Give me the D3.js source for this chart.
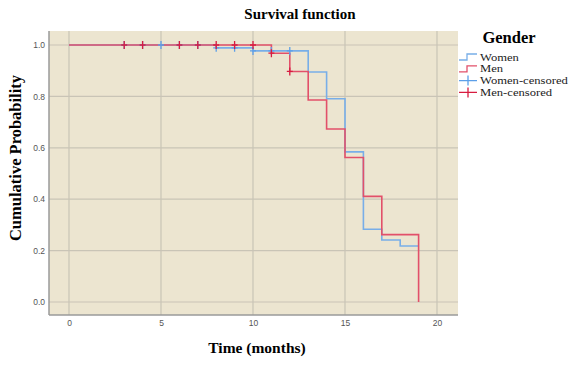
<!DOCTYPE html>
<html>
<head>
<meta charset="utf-8">
<script src="https://cdn.jsdelivr.net/npm/d3@7"></script>
<style>
  body { margin: 0; background: #fff; }
  text { font-family: "Liberation Serif", serif; }
  .tick text { font-family: "Liberation Sans", Arial, sans-serif; font-size: 8.5px; fill: #555; }
</style>
</head>
<body>
<svg id="drawing_region"></svg>
<script>
// Kaplan-Meier steps
const womenTime = [0, 8, 10, 13, 14, 15, 16, 17, 18, 19];
const womenSurv = [1.0, 0.989, 0.977, 0.895, 0.791, 0.584, 0.283, 0.241, 0.218, 0.218];
const menTime = [0, 11, 12, 13, 14, 15, 16, 17, 19];
const menSurv = [1.0, 0.968, 0.897, 0.786, 0.673, 0.562, 0.411, 0.262, 0.0];

// censored times
const womenCensored = [3, 4, 5, 6, 7, 8, 9, 10, 11, 12];
const menCensored = [3, 4, 6, 7, 8, 9, 10, 11, 12];

const xTicks = [0, 5, 10, 15, 20];
const yTicks = [0, 0.2, 0.4, 0.6, 0.8, 1.0];
const legendLabels = ["Women", "Men", "Women-censored", "Men-censored"];

let config = {
    parent: '#drawing_region',
    width: 587,
    height: 379,
    x0: 69, x1: 437,      // pixel of t=0 and t=20
    y0: 302, y1: 45,      // pixel of p=0 and p=1
    plot: {left: 49, right: 458, top: 31, bottom: 315},
    blue: '#78aee8',
    red: '#e2506a',
    redMark: '#d81c40',
    blueMark: '#5c9fe8'
};

class SurvivalPlot {
    constructor( config ) {
        this.config = config;
        this.init();
    }

    init() {
        let self = this;
        const c = self.config;

        self.svg = d3.select( c.parent )
            .attr('width', c.width)
            .attr('height', c.height);

        self.xscale = d3.scaleLinear().domain([0, 20]).range([c.x0, c.x1]);
        self.yscale = d3.scaleLinear().domain([0, 1]).range([c.y0, c.y1]);
    }

    render() {
        let self = this;
        const c = self.config;
        const p = c.plot;

        // background
        self.svg.append('rect')
            .attr('x', p.left).attr('y', p.top)
            .attr('width', p.right - p.left).attr('height', p.bottom - p.top)
            .attr('fill', '#ece5d0');

        // grid
        self.svg.append('g').selectAll('line').data(xTicks).join('line')
            .attr('x1', d => self.xscale(d)).attr('x2', d => self.xscale(d))
            .attr('y1', p.top).attr('y2', p.bottom)
            .attr('stroke', '#c9c4b6').attr('stroke-width', 1.2);
        self.svg.append('g').selectAll('line').data(yTicks).join('line')
            .attr('x1', p.left).attr('x2', p.right)
            .attr('y1', d => self.yscale(d)).attr('y2', d => self.yscale(d))
            .attr('stroke', '#c9c4b6').attr('stroke-width', 1.2);

        // axes
        const xaxis = d3.axisBottom(self.xscale).tickValues(xTicks).tickSize(0).tickPadding(5);
        const yaxis = d3.axisLeft(self.yscale).tickValues(yTicks).tickSize(0).tickPadding(4)
            .tickFormat(d3.format('.1f'));
        const xg = self.svg.append('g')
            .attr('transform', `translate(0, ${p.bottom})`).call(xaxis);
        const yg = self.svg.append('g')
            .attr('transform', `translate(${p.left}, 0)`).call(yaxis);
        xg.select('.domain').remove();
        yg.select('.domain').remove();

        self.svg.append('line')
            .attr('x1', p.left).attr('x2', p.right).attr('y1', p.bottom).attr('y2', p.bottom)
            .attr('stroke', '#9a9a9a').attr('stroke-width', 1.5);
        self.svg.append('line')
            .attr('x1', p.left).attr('x2', p.left).attr('y1', p.top).attr('y2', p.bottom)
            .attr('stroke', '#9a9a9a').attr('stroke-width', 1.5);

        // step curves
        const line = d3.line()
            .x(d => self.xscale(d[0]))
            .y(d => self.yscale(d[1]))
            .curve(d3.curveStepAfter);

        const women = d3.zip(womenTime, womenSurv);
        const men = d3.zip(menTime, menSurv);

        self.svg.append('path').datum(women)
            .attr('d', line).attr('fill', 'none')
            .attr('stroke', c.blue).attr('stroke-width', 1.6);
        self.svg.append('path').datum(men)
            .attr('d', line).attr('fill', 'none')
            .attr('stroke', c.red).attr('stroke-width', 1.6);

        // survival value at a censored time
        const at = (times, surv, t) => surv[d3.bisectRight(times, t) - 1];
        const plus = 'M-3,0H3M0,-4V4';

        self.svg.append('g').selectAll('path').data(womenCensored).join('path')
            .attr('d', plus)
            .attr('transform', d => `translate(${self.xscale(d)}, ${self.yscale(at(womenTime, womenSurv, d))})`)
            .attr('stroke', c.blueMark).attr('stroke-width', 1.3).attr('fill', 'none');
        self.svg.append('g').selectAll('path').data(menCensored).join('path')
            .attr('d', plus)
            .attr('transform', d => `translate(${self.xscale(d)}, ${self.yscale(at(menTime, menSurv, d))})`)
            .attr('stroke', c.redMark).attr('stroke-width', 1.3).attr('fill', 'none');

        // titles
        self.svg.append('text')
            .attr('x', 300).attr('y', 19)
            .attr('text-anchor', 'middle')
            .attr('font-weight', 'bold').attr('font-size', 15)
            .text('Survival function');
        self.svg.append('text')
            .attr('x', 257).attr('y', 353)
            .attr('text-anchor', 'middle')
            .attr('font-weight', 'bold').attr('font-size', 15.5)
            .text('Time (months)');
        self.svg.append('text')
            .attr('transform', 'translate(21, 158) rotate(-90)')
            .attr('text-anchor', 'middle')
            .attr('font-weight', 'bold').attr('font-size', 16.5)
            .text('Cumulative Probability');

        // legend
        self.svg.append('text')
            .attr('x', 509).attr('y', 43)
            .attr('text-anchor', 'middle')
            .attr('font-weight', 'bold').attr('font-size', 16.5)
            .text('Gender');

        const colors = [c.blue, c.red, c.blueMark, c.redMark];
        const leg = self.svg.append('g').selectAll('g').data(legendLabels).join('g')
            .attr('transform', (d, i) => `translate(459, ${57 + i * 11.8})`);
        leg.append('path')
            .attr('d', (d, i) => i < 2 ? 'M0,3H8V-3H18' : 'M0,0H18M9,-5V5')
            .attr('fill', 'none')
            .attr('stroke', (d, i) => colors[i])
            .attr('stroke-width', 1.3);
        leg.append('text')
            .attr('x', 21).attr('y', 3.5)
            .attr('font-size', 10.5)
            .attr('fill', '#222')
            .text(d => d)
            .each(function() {
                // widen a little, the original font runs wider than Liberation Serif
                const w = this.getComputedTextLength();
                d3.select(this).attr('textLength', w * 1.2).attr('lengthAdjust', 'spacingAndGlyphs');
            });
    }
}

const plot = new SurvivalPlot( config );
plot.render();
</script>
</body>
</html>
